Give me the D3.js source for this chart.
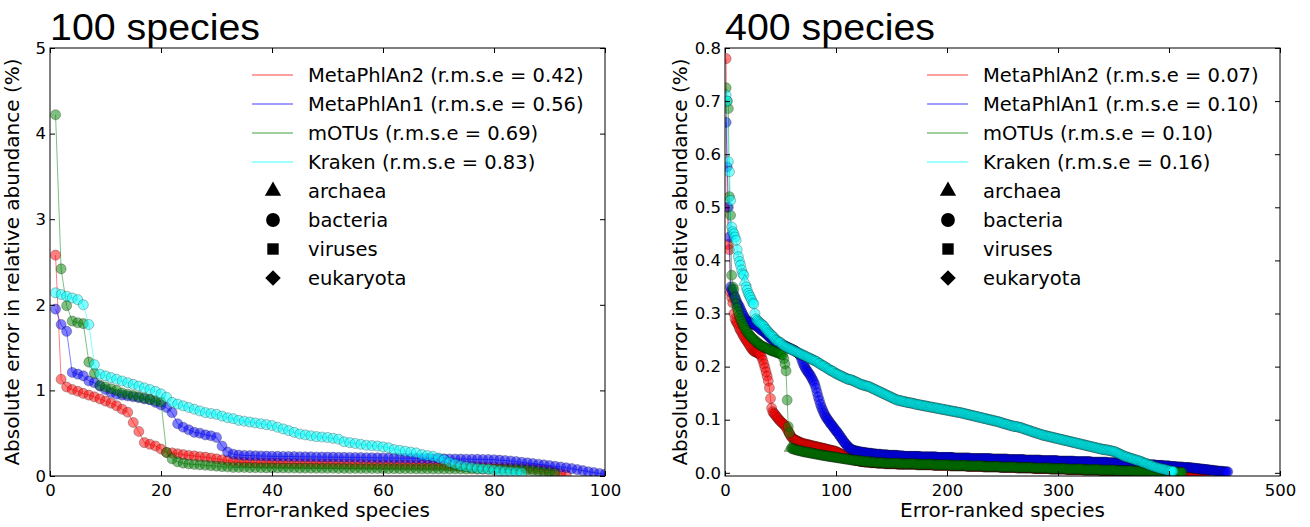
<!DOCTYPE html>
<html>
<head>
<meta charset="utf-8">
<script src="https://cdn.jsdelivr.net/npm/d3@7"></script>
<style>
body { margin: 0; background: #fff; }
text { font-family: 'DejaVu Sans', sans-serif; fill: #000; }
</style>
</head>
<body>
<script>
var methods = ['MetaPhlAn2', 'MetaPhlAn1', 'mOTUs', 'Kraken'];
var colors = ['#ff0000', '#0000ff', '#008000', '#00ffff'];
var rmse100 = ['0.42', '0.56', '0.69', '0.83'];
var rmse400 = ['0.07', '0.10', '0.10', '0.16'];
var kingdoms = ['archaea', 'bacteria', 'viruses', 'eukaryota'];

var xTicks100 = [0, 20, 40, 60, 80, 100];
var yTicks100 = [0, 1, 2, 3, 4, 5];
var xTicks400 = [0, 100, 200, 300, 400, 500];
var yTicks400 = [0, 0.1, 0.2, 0.3, 0.4, 0.5, 0.6, 0.7, 0.8];

// absolute error (%) per error-ranked species, rank 1..n
var mp2_100 = [
	2.58,1.13,1.04,1.01,.99,.965,.945,.925,.90,.875,
	.85,.82,.78,.745,.625,.52,.39,.37,.35,.315,
	.275,.27,.26,.25,.24,.235,.225,.22,.21,.20,
	.19,.18,.17,.165,.16,.155,.155,.15,.15,.15,
	.15,.148,.146,.145,.144,.143,.142,.141,.14,.14,
	.139,.138,.137,.136,.135,.134,.133,.132,.131,.13,
	.13,.129,.128,.127,.126,.125,.124,.123,.122,.121,
	.12,.118,.116,.114,.112,.11,.108,.106,.104,.102,
	.10,.098,.095,.092,.09,.087,.083,.078,.07,.06,
	.045,.03,.015];
var mp1_100 = [
	1.95,1.77,1.69,1.21,1.19,1.17,1.11,1.09,1.05,1.01,
	.975,.955,.945,.935,.925,.915,.90,.89,.86,.83,
	.80,.74,.61,.57,.54,.51,.50,.48,.47,.45,
	.35,.28,.255,.245,.24,.238,.236,.234,.232,.23,
	.229,.228,.227,.226,.225,.224,.223,.222,.221,.22,
	.22,.219,.218,.217,.216,.215,.214,.213,.212,.211,
	.21,.209,.208,.207,.206,.205,.204,.203,.202,.201,
	.20,.199,.198,.197,.196,.195,.194,.193,.192,.19,
	.185,.18,.175,.168,.16,.153,.146,.138,.13,.122,
	.114,.105,.096,.086,.075,.063,.05,.04,.03,.02];
var motus_100 = [
	4.22,2.42,1.99,1.81,1.79,1.78,1.33,1.20,1.06,1.04,
	1.02,1.00,.97,.955,.94,.925,.91,.895,.88,.865,
	.275,.20,.165,.15,.14,.135,.13,.125,.12,.115,
	.11,.105,.10,.10,.099,.098,.097,.096,.095,.095,
	.094,.094,.093,.093,.092,.092,.091,.091,.09,.09,
	.09,.089,.089,.088,.088,.088,.087,.087,.087,.086,
	.086,.086,.085,.085,.085,.084,.084,.084,.083,.083,
	.083,.082,.082,.082,.081,.081,.08,.08,.079,.078,
	.077,.076,.075,.074,.072,.068,.062,.055,.047,.038,
	.03];
var kraken_100 = [
	2.14,2.12,2.10,2.08,2.06,2.00,1.77,1.30,1.19,1.17,
	1.15,1.13,1.11,1.09,1.07,1.05,1.03,1.01,.99,.96,
	.92,.86,.84,.82,.80,.78,.76,.74,.73,.72,
	.70,.68,.67,.65,.64,.63,.62,.61,.60,.59,
	.57,.55,.53,.51,.49,.48,.47,.46,.455,.45,
	.44,.43,.40,.39,.38,.37,.36,.355,.35,.34,
	.33,.31,.30,.29,.28,.27,.25,.24,.23,.21,
	.19,.16,.14,.12,.11,.10,.09,.085,.08,.07,
	.06,.055,.05,.045,.04];

var mp2_400 = [
	.780,.500,.430,.420,.340,.330,.320,.300,.290,.285,
	.282,.278,.272,.268,.265,.260,.257,.253,.250,.247,
	.244,.240,.237,.234,.231,.229,.228,.227,.226,.225,
	.224,.222,.218,.212,.205,.198,.190,.182,.173,.160,
	.140,.122,.115,.112,.110,.107,.104,.102,.099,.097,
	.095,.093,.091,.089,.086,.082,.078,.074,.070,.067,
	.065,.063,.062,.061,.060,.059,.058,.057,.056,.055,
	.055,.054,.054,.053,.053,.052,.052,.051,.051,.050,
	.050,.049,.049,.048,.048,.047,.047,.046,.046,.045,
	.045,.044,.044,.043,.043,.042,.042,.041,.041,.040,
	.039,.038,.037,.036,.035,.034,.033,.032,.031,.030,
	.029,.028,.027,.026,.025,.024,.024,.023,.023,.023,
	.022,.021,.021,.021,.021,.020,.020,.020,.020,.020,
	.019,.019,.019,.019,.019,.019,.018,.018,.018,.018,
	.018,.018,.018,.017,.017,.017,.017,.017,.017,.017,
	.017,.017,.017,.017,.016,.016,.016,.016,.016,.016,
	.016,.016,.016,.016,.016,.016,.016,.016,.016,.016,.016,.016,
	.015,.015,.015,.015,.015,.015,.015,.015,.015,.015,.015,.015,.015,.015,.015,
	.014,.014,.014,.014,.014,.014,.014,.014,.014,.014,.014,.014,.014,.014,.014,
	.013,.013,.013,.013,.013,.013,.013,.013,.013,.013,.013,.013,.013,.013,.013,
	.012,.012,.012,.012,.012,.012,.012,.012,.012,.012,.012,.012,.012,.012,.012,
	.011,.011,.011,.011,.011,.011,.011,.011,.011,.011,.011,.011,.011,.011,.011,
	.010,.010,.010,.010,.010,.010,.010,.010,.010,.010,.010,.010,.010,.010,.010,
	.009,.009,.009,.009,.009,.009,.009,.009,.009,.009,.009,.009,.009,.009,.009,
	.008,.008,.008,.008,.008,.008,.008,.008,.008,.008,.008,.008,.008,.008,.008,
	.007,.007,.007,.007,.007,.007,.007,.007,.007,.007,.007,.007,.007,.007,.007,
	.006,.006,.006,.006,.006,.006,.006,.006,.006,.006,.006,.006,.006,.006,.006,
	.005,.005,.005,.005,.005,.005,.005,.005,.005,.005,.005,.005,.005,.005,.005,
	.004,.004,.004,.004,.004,.004,.004,.004,.004,.004,.004,.004,.004,.004,.004,
	.003,.003,.003,.003,.003,.003,.003,.003,.003,.003,.003,.003,.003,.003,.003,
	.002,.002,.002,.002,.002,.002,.002,.002,.002,.002,.002,.002,.002,.002,.002,
	.001,.001,.001,.001,.001,.001,.001,.001,.001,.001,.001,.001,.001,
	.001,.001,.001,.001,.001,.001,.001,.001,.001,.001,.001,.001,.001,
	.001,.001,.001,.001,.001,.001,.001,.001,.001,.001,.001,.001,.001,
	.001,.001,.001,.001,.001,.001,.001,.001,.001,.001,.001,.001,.001];
var mp1_400 = [
	.660,.576,.500,.444,.350,.345,.340,.335,.330,.325,
	.320,.316,.313,.308,.303,.299,.295,.291,.288,.286,
	.284,.283,.282,.281,.280,.279,.278,.277,.276,.274,
	.272,.270,.268,.267,.266,.264,.262,.260,.258,.256,
	.254,.252,.250,.249,.248,.247,.246,.245,.244,.243,
	.242,.241,.240,.239,.238,.237,.236,.235,.234,.233,
	.232,.231,.230,.228,.227,.225,.223,.220,.214,.208,
	.203,.199,.195,.192,.189,.186,.183,.179,.175,.171,
	.166,.159,.151,.143,.136,.129,.123,.118,.113,.109,
	.105,.102,.099,.096,.093,.090,.088,.085,.082,.079,
	.077,.074,.071,.068,.065,.062,.059,.056,.054,.051,
	.049,.047,.045,.044,.043,.042,.042,.041,.041,.040,
	.040,.039,.039,.039,.038,.038,.038,.037,.037,.037,
	.037,.036,.036,.036,.036,.035,.035,.035,.035,.035,
	.034,.034,.034,.034,.034,.034,.033,.033,.033,.033,
	.033,.033,.033,.033,.033,.032,.032,.032,.032,.032,
	.031,.031,.031,.031,.031,.031,.031,.031,.031,.031,.031,.031,.031,.031,.031,
	.030,.030,.030,.030,.030,.030,.030,.030,.030,.030,.030,.030,.030,.030,.030,
	.029,.029,.029,.029,.029,.029,.029,.029,.029,.029,.029,.029,.029,.029,.029,
	.028,.028,.028,.028,.028,.028,.028,.028,.028,.028,.028,.028,.028,.028,.028,
	.027,.027,.027,.027,.027,.027,.027,.027,.027,.027,.027,.027,.027,.027,.027,.027,.027,.027,.027,
	.026,.026,.026,.026,.026,.026,.026,.026,.026,.026,.026,.026,.026,.026,.026,
	.025,.025,.025,.025,.025,.025,.025,.025,.025,.025,.025,.025,.025,.025,.025,
	.024,.024,.024,.024,.024,.024,.024,.024,.024,.024,.024,.024,.024,.024,.024,
	.023,.023,.023,.023,.023,.023,.023,.023,.023,.023,.023,.023,.023,.023,.023,
	.022,.022,.022,.022,.022,.022,.022,.022,.022,.022,.022,.022,.022,.022,.022,
	.021,.021,.021,.021,.021,.021,.021,.021,.021,.021,.021,.021,.021,.021,.021,
	.020,.020,.020,.020,.020,.020,.020,.020,.020,.020,.020,.020,.020,.020,.020,
	.019,.019,.019,.019,.019,.019,.019,.019,.019,.019,.019,.019,.019,.019,.019,
	.018,.018,.018,.018,.018,.018,.018,.017,.017,.017,.017,.017,.017,.017,
	.016,.016,.016,.016,.016,.016,.016,.015,.015,.015,.015,.015,.015,.015,
	.014,.014,.014,.014,.014,.014,.014,.013,.013,.013,.013,.013,.013,
	.012,.012,.012,.012,.012,.012,.011,.011,.011,.011,.011,.011,
	.010,.010,.010,.010,.010,.010,.010,
	.009,.009,.009,.009,.008,.008,.008,.008,.007,.007,.007,.007,
	.006,.006,.006,.006,.005,.005,.005,.005,.004,.004,.004,.004,
	.003,.003,.003,.003,.003,.002,.002,.002,.002,.002];
var motus_400 = [
	.725,.700,.686,.520,.485,.372,.350,.345,.330,.318,
	.310,.303,.296,.290,.285,.280,.276,.272,.268,.265,
	.262,.260,.257,.255,.253,.251,.249,.247,.245,.244,
	.242,.240,.239,.238,.237,.236,.235,.234,.233,.232,
	.231,.230,.229,.229,.228,.227,.226,.226,.225,.224,
	.223,.222,.215,.205,.192,.137,.087,.075,.047,.046,
	.045,.045,.044,.043,.043,.042,.042,.041,.041,.040,
	.040,.039,.039,.039,.038,.038,.037,.037,.037,.036,
	.036,.035,.035,.035,.034,.034,.033,.033,.033,.032,
	.032,.032,.031,.031,.031,.030,.030,.030,.029,.029,
	.029,.028,.028,.028,.027,.027,.027,.026,.026,.026,
	.025,.025,.025,.024,.024,.024,.024,.023,.023,.023,
	.023,.022,.022,.022,.022,.021,.021,.021,.021,.021,
	.020,.020,.020,.020,.020,.020,.019,.019,.019,.019,
	.019,.019,.019,.018,.018,.018,.018,.018,.018,.018,
	.018,.018,.018,.018,.018,.018,.018,.017,.017,.017,
	.017,.017,.017,.017,.017,.017,.017,.017,.017,.017,.017,.017,
	.016,.016,.016,.016,.016,.016,.016,.016,.016,.016,.016,.016,.016,.016,.016,
	.015,.015,.015,.015,.015,.015,.015,.015,.015,.015,.015,.015,.015,.015,.015,
	.014,.014,.014,.014,.014,.014,.014,.014,.014,.014,.014,.014,.014,.014,.014,
	.013,.013,.013,.013,.013,.013,.013,.013,.013,.013,.013,.013,.013,.013,.013,
	.012,.012,.012,.012,.012,.012,.012,.012,.012,.012,.012,.012,.012,.012,.012,
	.011,.011,.011,.011,.011,.011,.011,.011,.011,.011,.011,.011,.011,.011,.011,
	.010,.010,.010,.010,.010,.010,.010,.010,.010,.010,.010,.010,.010,.010,.010,
	.009,.009,.009,.009,.009,.009,.009,.009,.009,.009,.009,.009,.009,.009,.009,
	.008,.008,.008,.008,.008,.008,.008,.008,.008,.008,.008,.008,.008,.008,.008,
	.007,.007,.007,.007,.007,.007,.007,.007,.007,.007,.007,.007,.007,.007,.007,
	.006,.006,.006,.006,.006,.006,.006,.006,.006,.006,.006,.006,.006,.006,.006,
	.005,.005,.005,.005,.005,.005,.005,.005,.005,.005,.005,.005,.005,.005,.005,
	.004,.004,.004,.004,.004,.004,.004,.004,.004,.004,.004,.004,.004,.004,.004,
	.003,.003,.003,.003,.003,.003,.003,.003,.003,.003,.003,.003,.003,.003,.003,
	.002,.002,.002,.002,.002,.002,.002,.002,.002,.002,.002,.002,.002,.002,.002,
	.001,.001,.001,.001,.001,.001,.001,.001,.001,.001,.001,.001,.001,.001,.001];
var kraken_400 = [
	.711,.700,.586,.567,.513,.463,.454,.450,.444,.438,
	.420,.407,.398,.391,.382,.375,.372,.360,.350,.344,
	.338,.334,.330,.325,.320,.318,.300,.290,.287,.285,
	.283,.281,.280,.278,.276,.273,.270,.268,.265,.263,
	.261,.259,.257,.255,.252,.250,.249,.247,.246,.245,
	.243,.241,.240,.238,.237,.236,.235,.234,.233,.232,
	.231,.230,.229,.228,.227,.226,.225,.224,.223,.222,
	.221,.220,.219,.218,.217,.216,.215,.214,.213,.212,
	.211,.210,.209,.207,.206,.205,.203,.202,.201,.200,
	.198,.197,.196,.194,.193,.192,.191,.190,.188,.187,
	.186,.185,.184,.183,.182,.181,.180,.179,.178,.177,
	.176,.176,.175,.175,.174,.173,.172,.171,.170,.169,
	.168,.167,.166,.166,.165,.164,.164,.163,.163,.162,
	.161,.160,.159,.158,.157,.156,.155,.154,.153,.152,
	.151,.150,.149,.148,.147,.146,.145,.144,.143,.142,
	.141,.140,.139,.138,.137,.137,.136,.136,.135,.135,
	.134,.134,.133,.133,.132,.132,.132,.131,.131,.130,
	.130,.129,.129,.128,.128,.128,.127,.127,.126,.126,
	.126,.125,.125,.124,.124,.124,.123,.123,.122,.122,
	.122,.121,.121,.120,.120,.120,.119,.119,.118,.118,
	.118,.117,.117,.116,.116,.116,.115,.115,.114,.114,
	.114,.113,.113,.112,.112,.111,.111,.110,.110,.109,
	.109,.108,.108,.107,.107,.106,.106,.105,.105,.104,
	.104,.103,.103,.102,.102,.101,.101,.100,.100,.099,
	.099,.098,.098,.097,.097,.096,.096,.095,.094,.094,
	.093,.092,.092,.091,.091,.090,.089,.089,.088,.088,
	.087,.087,.087,.086,.086,.085,.085,.084,.083,.082,
	.082,.081,.080,.080,.079,.078,.077,.077,.076,.075,
	.075,.074,.073,.073,.072,.071,.071,.070,.070,.069,
	.069,.068,.068,.067,.067,.066,.066,.065,.065,.064,
	.064,.063,.063,.062,.062,.061,.061,.060,.060,.059,
	.059,.058,.058,.057,.057,.056,.056,.055,.055,.054,
	.054,.053,.053,.052,.052,.051,.051,.050,.050,.049,
	.049,.048,.048,.047,.047,.046,.046,.045,.045,.044,
	.044,.044,.043,.043,.043,.042,.042,.041,.041,.040,
	.040,.039,.038,.037,.036,.035,.034,.033,.032,.031,
	.030,.030,.029,.028,.028,.027,.026,.026,.025,.024,
	.024,.023,.022,.022,.021,.020,.019,.018,.018,.017,
	.016,.015,.014,.014,.013,.012,.011,.011,.010,.009,
	.009,.008,.008,.007,.007,.006,.006,.005,.005,.004,
	.004,.004,.003,.003];

// ranks drawn with the archaea marker, per method
var archaea100 = [[], [], [], []];
var archaea400 = [[], [], [59], [18]];

var W = 1310, H = 527;
var svg = d3.select('body').append('svg').attr('width', W).attr('height', H);

var panels = [
	{id: 'p100', title: '100 species', left: 50, right: 605, top: 48, bottom: 476,
		xDomain: [0, 100], yDomain: [0, 5], xTicks: xTicks100, yTicks: yTicks100,
		yFormat: d3.format('d'), series: [mp2_100, mp1_100, motus_100, kraken_100],
		archaea: archaea100, rmse: rmse100, legendX: 252, ylabelX: 19},
	{id: 'p400', title: '400 species', left: 725, right: 1280, top: 48, bottom: 476,
		xDomain: [0, 500], yDomain: [-0.006, 0.8], xTicks: xTicks400, yTicks: yTicks400,
		yFormat: d3.format('.1f'), series: [mp2_400, mp1_400, motus_400, kraken_400],
		archaea: archaea400, rmse: rmse400, legendX: 927, ylabelX: 687}
];

// legend markers: triangle, circle, square, diamond (square turned 45deg)
var markerTypes = [d3.symbolTriangle, d3.symbolCircle, d3.symbolSquare, d3.symbolSquare];
var markerSizes = [115, 150, 130, 120];
var markerTurn = [0, 0, 0, 45];

function drawPanel(p) {
	var x = d3.scaleLinear().domain(p.xDomain).range([p.left, p.right]);
	var y = d3.scaleLinear().domain(p.yDomain).range([p.bottom, p.top]);
	var g = svg.append('g').attr('class', 'panel');

	g.append('clipPath').attr('id', 'clip' + p.id).append('rect')
		.attr('x', p.left).attr('y', p.top)
		.attr('width', p.right - p.left).attr('height', p.bottom - p.top);

	var plot = g.append('g').attr('clip-path', 'url(#clip' + p.id + ')');

	p.series.forEach(function (vals, k) {
		var pts = vals.map(function (v, i) { return {rank: i + 1, v: v}; });
		var arch = p.archaea[k];

		plot.append('path').datum(pts)
			.attr('d', d3.line().x(function (d) { return x(d.rank); }).y(function (d) { return y(d.v); }))
			.attr('fill', 'none')
			.attr('stroke', colors[k])
			.attr('stroke-opacity', 0.5)
			.attr('stroke-width', 1);

		plot.append('g').selectAll('path').data(pts).enter().append('path')
			.attr('transform', function (d) { return 'translate(' + x(d.rank) + ',' + y(d.v) + ')'; })
			.attr('d', function (d) {
				var a = arch.indexOf(d.rank) >= 0;
				return d3.symbol().type(a ? d3.symbolTriangle : d3.symbolCircle).size(a ? 70 : 80)();
			})
			.attr('fill', colors[k])
			.attr('fill-opacity', 0.5)
			.attr('stroke', '#000')
			.attr('stroke-opacity', 0.5)
			.attr('stroke-width', 0.5);
	});

	// axes with inward ticks on all four sides
	var ax = g.append('g').attr('class', 'axes');
	ax.append('g').attr('transform', 'translate(0,' + p.bottom + ')')
		.call(d3.axisBottom(x).tickValues(p.xTicks).tickSizeInner(-5).tickSizeOuter(0).tickPadding(8));
	ax.append('g').attr('transform', 'translate(0,' + p.top + ')')
		.call(d3.axisTop(x).tickValues(p.xTicks).tickSizeInner(-5).tickSizeOuter(0).tickFormat(''));
	ax.append('g').attr('transform', 'translate(' + p.left + ',0)')
		.call(d3.axisLeft(y).tickValues(p.yTicks).tickSizeInner(-5).tickSizeOuter(0).tickPadding(4).tickFormat(p.yFormat));
	ax.append('g').attr('transform', 'translate(' + p.right + ',0)')
		.call(d3.axisRight(y).tickValues(p.yTicks).tickSizeInner(-5).tickSizeOuter(0).tickFormat(''));
	ax.selectAll('.domain').remove();
	ax.selectAll('.tick line').attr('stroke', '#000').attr('stroke-width', 1);
	ax.selectAll('.tick text').attr('fill', '#000')
		.style('font-family', "'DejaVu Sans', sans-serif")
		.style('font-size', '16.5px');

	g.append('rect')
		.attr('x', p.left).attr('y', p.top)
		.attr('width', p.right - p.left).attr('height', p.bottom - p.top)
		.attr('fill', 'none').attr('stroke', '#000').attr('stroke-width', 1);

	g.append('text')
		.attr('x', p.left).attr('y', 40)
		.attr('textLength', 210).attr('lengthAdjust', 'spacingAndGlyphs')
		.style('font-family', "'Liberation Sans', Arial, sans-serif")
		.style('font-size', '37px')
		.text(p.title);

	g.append('text')
		.attr('x', (p.left + p.right) / 2).attr('y', 517)
		.attr('text-anchor', 'middle')
		.style('font-size', '20px')
		.text('Error-ranked species');

	g.append('text')
		.attr('transform', 'translate(' + p.ylabelX + ',' + (p.top + p.bottom) / 2 + ') rotate(-90)')
		.attr('text-anchor', 'middle')
		.style('font-size', '20px')
		.text('Absolute error in relative abundance (%)');

	// legend: methods as lines, kingdoms as black markers
	var lg = g.append('g').attr('class', 'legend').style('font-size', '19.5px');
	var rowY = function (i) { return 75 + i * 29; };
	methods.forEach(function (m, k) {
		lg.append('line')
			.attr('x1', p.legendX).attr('x2', p.legendX + 41)
			.attr('y1', rowY(k)).attr('y2', rowY(k))
			.attr('stroke', colors[k]).attr('stroke-opacity', 0.5).attr('stroke-width', 1.5);
		lg.append('text')
			.attr('x', p.legendX + 56).attr('y', rowY(k)).attr('dy', '0.36em')
			.text(m + ' (r.m.s.e = ' + p.rmse[k] + ')');
	});
	kingdoms.forEach(function (kd, j) {
		lg.append('path')
			.attr('transform', 'translate(' + (p.legendX + 21) + ',' + rowY(4 + j) + ') rotate(' + markerTurn[j] + ')')
			.attr('d', d3.symbol().type(markerTypes[j]).size(markerSizes[j])())
			.attr('fill', '#000');
		lg.append('text')
			.attr('x', p.legendX + 56).attr('y', rowY(4 + j)).attr('dy', '0.36em')
			.text(kd);
	});
}

panels.forEach(drawPanel);
</script>
</body>
</html>
